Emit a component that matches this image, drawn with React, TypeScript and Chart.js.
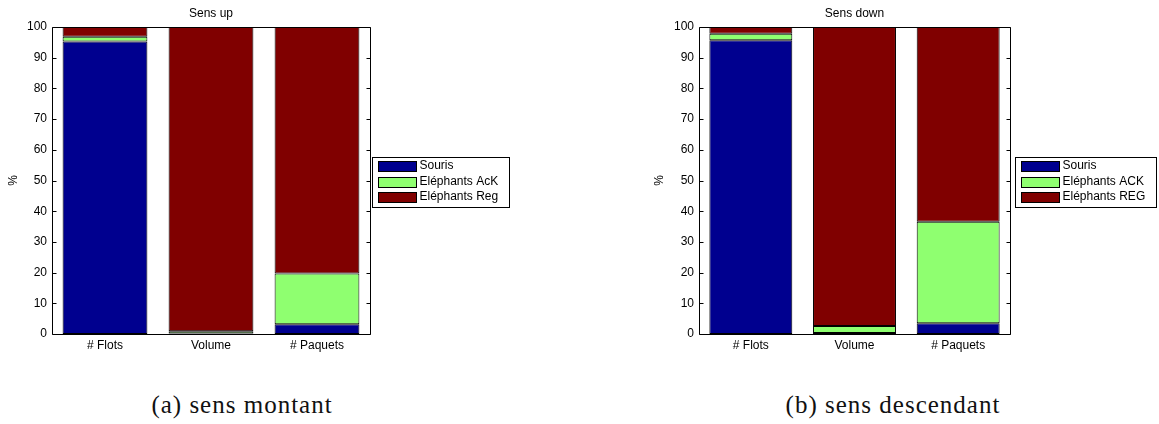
import React, { useEffect, useRef } from "react";
import { Chart, registerables } from "chart.js";

Chart.register(...registerables);

const categories = ["# Flots", "Volume", "# Paquets"];

const upSouris = [95.3, 0.2, 3.2];
const upAck = [1.5, 0.7, 16.5];
const upReg = [3.2, 99.1, 80.3];
const upLegend = ["Souris", "Eléphants AcK", "Eléphants Reg"];

const downSouris = [95.7, 0.3, 3.5];
const downAck = [2.1, 2.3, 33.1];
const downReg = [2.2, 97.4, 63.4];
const downLegend = ["Souris", "Eléphants ACK", "Eléphants REG"];

const yMin = 0;
const yMax = 100;
const yStep = 10;

const seriesColors = ["#00008f", "#8fff70", "#800000"];
const FONT = '"Liberation Sans", Arial, Helvetica, sans-serif';
const FS = 12;

type PanelProps = {
  left: number;
  width: number;
  height: number;
  plotLeft: number;
  plotRight: number;
  plotTop: number;
  plotBottom: number;
  title: string;
  titleY: number;
  ylabelX: number;
  legendX: number;
  legendW: number;
  legendLabels: string[];
  series: number[][];
};

function Panel(p: PanelProps) {
  const ref = useRef<HTMLCanvasElement | null>(null);

  useEffect(() => {
    const decor = {
      id: "matlabDecor",
      afterDraw(chart: any) {
        const ctx = chart.ctx as CanvasRenderingContext2D;
        const a = chart.chartArea;
        const ys = chart.scales.y;
        ctx.save();
        ctx.strokeStyle = "#000";
        ctx.lineWidth = 1;
        const L = Math.round(a.left) + 0.5;
        const R = Math.round(a.right) + 0.5;
        const T = Math.round(a.top) + 0.5;
        const B = Math.round(a.bottom) + 0.5;
        ctx.beginPath();
        ctx.rect(L, T, R - L, B - T);
        ctx.stroke();
        ctx.beginPath();
        for (let v = yMin; v <= yMax; v += yStep) {
          const y = Math.round(ys.getPixelForValue(v)) + 0.5;
          ctx.moveTo(L, y);
          ctx.lineTo(L + 4, y);
          ctx.moveTo(R, y);
          ctx.lineTo(R - 4, y);
        }
        ctx.stroke();
        ctx.fillStyle = "#000";
        ctx.font = `${FS}px ${FONT}`;
        ctx.textAlign = "center";
        ctx.textBaseline = "middle";
        ctx.fillText(p.title, (a.left + a.right) / 2, p.titleY);
        ctx.save();
        ctx.translate(p.ylabelX, (a.top + a.bottom) / 2);
        ctx.rotate(-Math.PI / 2);
        ctx.fillText("%", 0, 0);
        ctx.restore();
        const lx = p.legendX + 0.5;
        const ly = 157.5;
        const lh = 50;
        ctx.fillStyle = "#fff";
        ctx.fillRect(lx, ly, p.legendW, lh);
        ctx.strokeStyle = "#000";
        ctx.strokeRect(lx, ly, p.legendW, lh);
        const rowYs = [166, 181.5, 197];
        p.legendLabels.forEach((lab, i) => {
          const cy = rowYs[i];
          ctx.fillStyle = seriesColors[i];
          ctx.fillRect(lx + 6, Math.round(cy - 5) + 0.5, 38, 10);
          ctx.strokeStyle = "#000";
          ctx.strokeRect(lx + 6, Math.round(cy - 5) + 0.5, 38, 10);
          ctx.fillStyle = "#000";
          ctx.textAlign = "left";
          ctx.textBaseline = "middle";
          ctx.font = `${FS}px ${FONT}`;
          ctx.fillText(lab, lx + 47, cy);
        });
        ctx.restore();
      },
    };

    const chart = new Chart(ref.current as HTMLCanvasElement, {
      type: "bar",
      data: {
        labels: categories,
        datasets: p.series.map((d, i) => ({
          label: p.legendLabels[i],
          data: d,
          backgroundColor: seriesColors[i],
          borderColor: "#000",
          borderWidth: 1,
          borderSkipped: false,
          categoryPercentage: 0.8,
          barPercentage: 1.0,
        })),
      },
      options: {
        animation: false,
        responsive: false,
        maintainAspectRatio: false,
        events: [],
        layout: {
          padding: {
            left: 0,
            right: p.width - p.plotRight,
            top: p.plotTop,
            bottom: 0,
          },
        },
        plugins: {
          legend: { display: false },
          title: { display: false },
          tooltip: { enabled: false },
        },
        scales: {
          x: {
            stacked: true,
            grid: { display: false, drawTicks: false },
            border: { display: false },
            ticks: {
              color: "#000",
              padding: 4,
              font: { family: FONT, size: FS },
              maxRotation: 0,
            },
            afterFit(s: any) {
              s.height = p.height - p.plotBottom;
            },
          },
          y: {
            stacked: true,
            min: yMin,
            max: yMax,
            grid: { display: false, drawTicks: false },
            border: { display: false },
            ticks: {
              stepSize: yStep,
              color: "#000",
              padding: 5,
              font: { family: FONT, size: FS },
            },
            afterFit(s: any) {
              s.width = p.plotLeft;
            },
          },
        },
      },
      plugins: [decor],
    } as any);
    return () => chart.destroy();
  }, []);

  return (
    <canvas
      ref={ref}
      width={p.width}
      height={p.height}
      style={{ position: "absolute", left: p.left, top: 0, width: p.width, height: p.height }}
    />
  );
}

const captionStyle: React.CSSProperties = {
  position: "absolute",
  top: 390,
  fontFamily: '"Liberation Serif", "DejaVu Serif", serif',
  fontSize: 25,
  letterSpacing: 1,
  color: "#111",
  whiteSpace: "nowrap",
  transform: "translateX(-50%)",
  lineHeight: "30px",
};

export default function App() {
  return (
    <div
      style={{
        position: "absolute",
        left: 0,
        top: 0,
        width: 1159,
        height: 424,
        background: "#fff",
        overflow: "hidden",
      }}
    >
      <Panel
        left={0}
        width={580}
        height={360}
        plotLeft={52}
        plotRight={370}
        plotTop={27}
        plotBottom={334}
        title="Sens up"
        titleY={14}
        ylabelX={14}
        legendX={372}
        legendW={137}
        legendLabels={upLegend}
        series={[upSouris, upAck, upReg]}
      />
      <Panel
        left={580}
        width={579}
        height={360}
        plotLeft={119}
        plotRight={430}
        plotTop={27}
        plotBottom={334}
        title="Sens down"
        titleY={14}
        ylabelX={80}
        legendX={435}
        legendW={141}
        legendLabels={downLegend}
        series={[downSouris, downAck, downReg]}
      />
      <div style={{ ...captionStyle, left: 242 }}>(a) sens montant</div>
      <div style={{ ...captionStyle, left: 893 }}>(b) sens descendant</div>
    </div>
  );
}
